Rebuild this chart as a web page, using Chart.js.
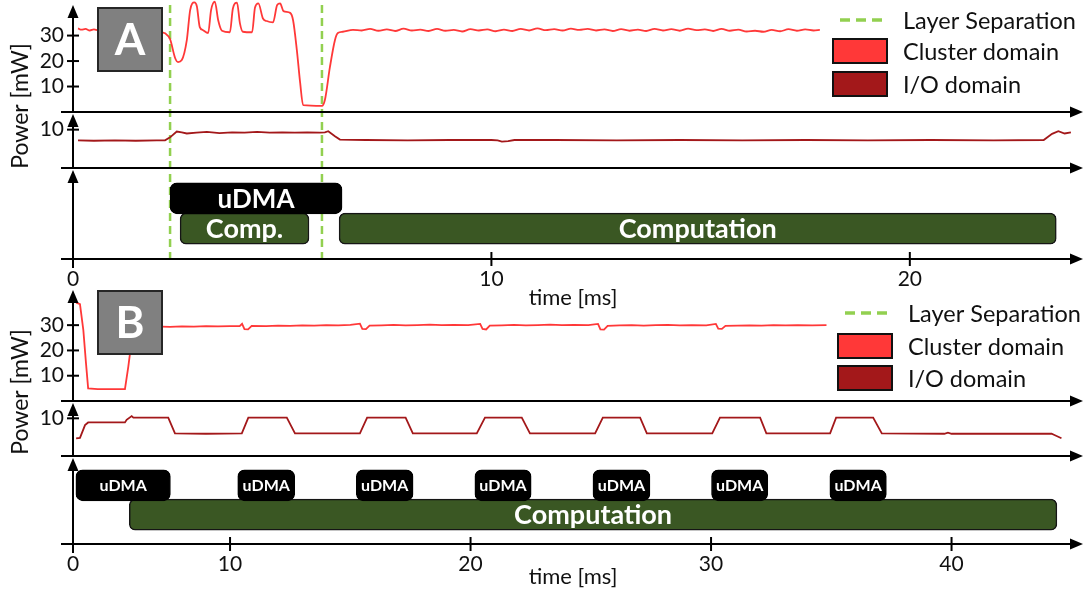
<!DOCTYPE html>
<html>
<head>
<meta charset="utf-8">
<script src="https://cdn.jsdelivr.net/npm/chart.js@4.4.0/dist/chart.umd.min.js"></script>
<style>
  body { margin: 0; background: #fff; }
  #wrap { position: relative; width: 1091px; height: 592px; }
  canvas { position: absolute; left: 0; }
</style>
</head>
<body>
<div id="wrap">
  <canvas id="chartA" width="1091" height="312" style="top:0"></canvas>
  <canvas id="chartB" width="1091" height="306" style="top:286px"></canvas>
</div>
<script>
// ---- data (time in ms, power in mW) ----
const legendLabels = ['Layer Separation', 'Cluster domain', 'I/O domain']
const clusterTicks = [10, 20, 30]
const ioTicks = [10]
const udmaRow = 2
const compRow = 1

// panel A
const xTicksA = [0, 10, 20]
const xTickLabelsA = ['0', '10', '20']
const layerSepA = [2.32, 5.95]
const clusterA = [
  [0.12, 32.8], [0.2, 32.3], [0.3, 32.6], [0.4, 32.0], [0.5, 32.4], [0.6, 32.1], [1.0, 32.2], [1.5, 32.0],
  [2.0, 32.1], [2.13, 31.3], [2.2, 30.9], [2.32, 28.6], [2.44, 21.2], [2.51, 19.6], [2.6, 20.4], [2.72, 28.2],
  [2.8, 40.0], [2.9, 43.0], [2.96, 41.5], [3.03, 33.3], [3.1, 32.2], [3.23, 31.0], [3.3, 40.0], [3.39, 43.3],
  [3.47, 36.0], [3.56, 31.9], [3.75, 31.3], [3.82, 40.5], [3.92, 42.9], [3.99, 34.8], [4.06, 31.5], [4.28, 31.3],
  [4.35, 41.0], [4.43, 42.6], [4.54, 36.7], [4.63, 35.7], [4.78, 35.2], [4.88, 42.0], [4.95, 42.6], [5.03, 39.6],
  [5.19, 38.9], [5.26, 36.0], [5.35, 24.3], [5.43, 11.3], [5.5, 2.7], [5.95, 2.4], [6.02, 4.7], [6.14, 17.6],
  [6.26, 28.2], [6.33, 31.0], [6.45, 31.5], [6.69, 32.2], [6.9, 32.0], [7.1, 32.6], [7.3, 31.9], [7.5, 32.4],
  [7.7, 31.8], [7.9, 32.7], [8.1, 32.0], [8.3, 32.3], [8.5, 31.8], [8.7, 32.6], [8.9, 31.9], [9.1, 32.2],
  [9.3, 31.6], [9.5, 32.5], [9.7, 32.0], [9.9, 32.4], [10.1, 31.7], [10.3, 32.3], [10.5, 31.8], [10.7, 32.6],
  [10.9, 32.0], [11.1, 32.8], [11.3, 32.1], [11.5, 32.5], [11.7, 32.0], [11.9, 32.7], [12.1, 32.2], [12.3, 32.6],
  [12.5, 32.0], [12.7, 32.4], [12.9, 31.8], [13.1, 32.5], [13.3, 31.9], [13.5, 32.3], [13.7, 31.8], [13.9, 32.6],
  [14.1, 32.0], [14.3, 32.5], [14.5, 31.9], [14.7, 32.7], [14.9, 32.1], [15.1, 32.4], [15.3, 31.8], [15.5, 32.6],
  [15.7, 31.9], [15.9, 32.3], [16.1, 31.6], [16.3, 31.9], [16.5, 31.5], [16.7, 32.2], [16.9, 31.7], [17.1, 32.5],
  [17.3, 31.9], [17.5, 32.4], [17.7, 32.0], [17.85, 32.2]
]
const ioA = [
  [0.12, 7.2], [0.5, 7.1], [1.0, 7.2], [1.5, 7.1], [2.0, 7.2], [2.2, 7.2], [2.32, 8.0], [2.48, 9.5],
  [2.6, 9.3], [2.72, 9.0], [2.95, 9.2], [3.2, 9.4], [3.5, 9.1], [3.8, 9.3], [4.1, 9.2], [4.4, 9.4],
  [4.7, 9.2], [5.0, 9.3], [5.3, 9.2], [5.6, 9.3], [5.9, 9.2], [6.02, 9.3], [6.1, 9.6], [6.26, 8.3],
  [6.38, 7.4], [7.0, 7.3], [8.0, 7.2], [9.0, 7.3], [10.0, 7.3], [10.15, 7.2], [10.25, 6.9], [10.4, 7.0],
  [10.55, 7.3], [11.5, 7.3], [13.0, 7.2], [14.5, 7.3], [16.0, 7.2], [17.5, 7.3], [19.0, 7.2], [20.5, 7.3],
  [22.0, 7.2], [23.2, 7.3], [23.4, 8.9], [23.55, 9.6], [23.7, 9.0], [23.85, 9.3]
]
const udmaA = [[2.32, 6.43]]
const compA = [[2.56, 5.64], [6.36, 23.5]]
const udmaLabelsA = ['uDMA']
const compLabelsA = ['Comp.', 'Computation']

// panel B
const xTicksB = [3.47, 10, 20, 30, 40]
const xTickLabelsB = ['0', '10', '20', '30', '40']
const layerSepB = []
const clusterB = [
  [3.6, 38.9], [3.76, 38.3], [3.9, 28.0], [4.01, 15.0], [4.1, 5.0], [4.5, 4.7], [5.0, 4.7], [5.63, 4.7],
  [5.77, 13.6], [5.91, 24.0], [6.0, 28.5], [6.3, 29.5], [6.8, 29.4], [7.17, 29.4], [7.5, 29.3], [8.0, 29.5],
  [8.5, 29.4], [9.0, 29.6], [9.5, 29.5], [10.0, 29.6], [10.4, 29.6], [10.5, 30.5], [10.6, 28.4], [10.75, 28.3],
  [10.9, 29.7], [11.5, 29.6], [12.0, 29.8], [12.5, 29.7], [13.0, 29.9], [13.5, 29.8], [14.0, 30.0], [14.5, 29.9],
  [15.0, 30.1], [15.4, 30.6], [15.5, 28.5], [15.65, 28.4], [15.8, 29.8], [16.3, 29.9], [16.8, 30.1], [17.3, 29.9],
  [17.8, 30.0], [18.3, 30.2], [18.8, 30.0], [19.3, 30.1], [19.9, 30.0], [20.4, 30.5], [20.5, 28.5], [20.65, 28.3],
  [20.8, 29.8], [21.3, 29.9], [21.8, 30.1], [22.3, 29.9], [22.8, 30.0], [23.3, 30.2], [23.8, 30.0], [24.3, 30.1],
  [24.9, 30.0], [25.3, 30.5], [25.4, 28.3], [25.55, 28.2], [25.7, 29.7], [26.2, 29.9], [26.7, 30.0], [27.2, 29.8],
  [27.7, 30.0], [28.2, 30.1], [28.7, 29.9], [29.2, 30.0], [29.8, 29.9], [30.2, 30.5], [30.3, 28.6], [30.45, 28.5],
  [30.6, 29.7], [31.1, 29.8], [31.6, 29.9], [32.1, 29.8], [32.6, 30.0], [33.1, 29.9], [33.6, 30.0], [34.2, 29.9],
  [34.8, 30.0]
]
const ioB = [
  [3.6, 4.7], [3.76, 4.8], [3.97, 8.2], [4.1, 8.9], [5.0, 8.9], [5.63, 8.9], [5.7, 9.6], [5.91, 10.6],
  [5.98, 10.2], [6.7, 10.2], [7.43, 10.2], [7.71, 6.0], [9.0, 5.9], [10.49, 6.0], [10.76, 10.2], [12.36, 10.2],
  [12.7, 6.0], [15.4, 6.0], [15.7, 10.2], [17.3, 10.2], [17.6, 6.0], [20.26, 6.0], [20.6, 10.2], [22.13, 10.2],
  [22.47, 6.0], [25.18, 6.0], [25.5, 10.2], [27.05, 10.2], [27.33, 6.0], [30.05, 6.0], [30.37, 10.2], [32.04, 10.2],
  [32.3, 6.0], [34.95, 6.0], [35.2, 10.2], [36.74, 10.2], [37.1, 6.0], [39.7, 5.9], [39.85, 6.2], [40.0, 5.9],
  [44.16, 5.9], [44.3, 5.5], [44.57, 4.7]
]
const udmaB = [[3.59, 7.52], [10.32, 12.69], [15.25, 17.61], [20.18, 22.52], [25.09, 27.46], [30.02, 32.36], [34.94, 37.29]]
const compB = [[5.81, 44.38]]
const udmaLabelsB = ['uDMA', 'uDMA', 'uDMA', 'uDMA', 'uDMA', 'uDMA', 'uDMA']
const compLabelsB = ['Computation']

// ---- colours ----
const clusterColor = 'rgb(255, 56, 56)'
const ioColor = 'rgb(163, 24, 26)'
const sepColor = 'rgb(146, 208, 80)'
const udmaColor = '#000000'
const compColor = 'rgb(58, 87, 35)'
const FONT = 'Lato, "Open Sans", sans-serif'

const arrowHead = (ctx, x, y, dir) => {
  ctx.beginPath()
  if (dir === 'up') {
    ctx.moveTo(x, y); ctx.lineTo(x - 5.5, y + 13); ctx.lineTo(x + 5.5, y + 13)
  } else {
    ctx.moveTo(x, y); ctx.lineTo(x - 13, y - 5.5); ctx.lineTo(x - 13, y + 5.5)
  }
  ctx.closePath()
  ctx.fill()
}

const figurePlugin = {
  id: 'figure',
  beforeDatasetsDraw (chart, args, opts) {
    const { ctx, chartArea, scales: { x } } = chart
    ctx.save()
    ctx.strokeStyle = sepColor
    ctx.lineWidth = 2.5
    ctx.setLineDash([8, 5])
    opts.layerSeps.forEach(v => {
      const px = x.getPixelForValue(v)
      ctx.beginPath()
      ctx.moveTo(px, chartArea.top)
      ctx.lineTo(px, chartArea.bottom)
      ctx.stroke()
    })
    ctx.restore()
  },
  afterDatasetsDraw (chart, args, opts) {
    const { ctx } = chart
    ctx.save()
    // bar labels
    chart.data.datasets.forEach((ds, i) => {
      if (!ds.barLabels) return
      const meta = chart.getDatasetMeta(i)
      ctx.fillStyle = '#fff'
      ctx.textAlign = 'center'
      ctx.textBaseline = 'middle'
      meta.data.forEach((bar, j) => {
        const { x, base, y } = bar.getProps(['x', 'base', 'y'], true)
        ctx.font = `bold ${ds.labelSize}px ${FONT}`
        ctx.fillText(ds.barLabels[j], (x + base) / 2, y + 1)
      })
    })
    // panel tag
    const t = opts.tag
    ctx.fillStyle = '#808080'
    ctx.strokeStyle = '#262626'
    ctx.lineWidth = 2
    ctx.fillRect(t.x, t.y, 64, 63)
    ctx.strokeRect(t.x, t.y, 64, 63)
    ctx.fillStyle = '#fff'
    ctx.font = `bold 44px ${FONT}`
    ctx.textAlign = 'center'
    ctx.textBaseline = 'middle'
    ctx.fillText(t.text, t.x + 32, t.y + 33)
    // legend
    const lg = opts.legend
    ctx.font = `23.5px ${FONT}`
    ctx.textAlign = 'left'
    ctx.fillStyle = '#111'
    legendLabels.forEach((label, i) => {
      const yy = lg.y + lg.rows[i]
      if (i === 0) {
        ctx.save()
        ctx.strokeStyle = sepColor
        ctx.lineWidth = 3.5
        ctx.setLineDash([10, 6])
        ctx.beginPath()
        ctx.moveTo(lg.x + 7, yy)
        ctx.lineTo(lg.x + 51, yy)
        ctx.stroke()
        ctx.restore()
      } else {
        ctx.fillStyle = i === 1 ? clusterColor : ioColor
        ctx.fillRect(lg.x, yy - 12, 54, 24)
        ctx.strokeStyle = '#111'
        ctx.lineWidth = 2
        ctx.strokeRect(lg.x, yy - 12, 54, 24)
      }
      ctx.fillStyle = '#111'
      ctx.fillText(label, lg.x + 70, yy + 1)
    })
    // y title
    ctx.save()
    ctx.translate(21, opts.titleY)
    ctx.rotate(-Math.PI / 2)
    ctx.textAlign = 'center'
    ctx.textBaseline = 'middle'
    ctx.font = `23px ${FONT}`
    ctx.fillStyle = '#111'
    ctx.fillText('Power [mW]', 0, 0)
    ctx.restore()
    ctx.restore()
  },
  afterDraw (chart) {
    const { ctx, chartArea, scales } = chart
    const left = chartArea.left
    const right = chartArea.right
    ctx.save()
    ctx.strokeStyle = '#000'
    ctx.fillStyle = '#000'
    ctx.lineWidth = 2
    ;['yC', 'yIO', 'yG'].forEach(id => {
      const s = scales[id]
      const tip = id === 'yC' ? s.top : s.top + 2
      ctx.beginPath()
      ctx.moveTo(left, s.bottom + (id === 'yG' ? 9 : 0))
      ctx.lineTo(left, tip + 6)
      ctx.stroke()
      arrowHead(ctx, left, tip, 'up')
      ctx.beginPath()
      ctx.moveTo(left - 12, s.bottom)
      ctx.lineTo(right + 4, s.bottom)
      ctx.stroke()
      arrowHead(ctx, right + 10, s.bottom, 'right')
      s.ticks.forEach(t => {
        const py = s.getPixelForValue(t.value)
        ctx.beginPath()
        ctx.moveTo(left - 6, py)
        ctx.lineTo(left + 6, py)
        ctx.stroke()
      })
    })
    const x = scales.x
    const base = scales.yG.bottom
    x.ticks.forEach(t => {
      if (t.value <= x.min) return
      const px = x.getPixelForValue(t.value)
      ctx.beginPath()
      ctx.moveTo(px, base - 7)
      ctx.lineTo(px, base + 7)
      ctx.stroke()
    })
    ctx.restore()
  }
}

const fitY = s => {
  s.width = 73
  s.paddingTop = 0
  s.paddingBottom = 0
}

const makePanel = (canvas, p) => new Chart(canvas, {
  type: 'line',
  data: {
    datasets: [{
      label: legendLabels[1],
      data: p.cluster.map(([t, v]) => ({ x: t, y: v })),
      borderColor: clusterColor,
      borderWidth: 1.8,
      pointRadius: 0,
      cubicInterpolationMode: p.smooth ? 'monotone' : 'default',
      yAxisID: 'yC',
      clip: false,
    }, {
      label: legendLabels[2],
      data: p.io.map(([t, v]) => ({ x: t, y: v })),
      borderColor: ioColor,
      borderWidth: 1.8,
      pointRadius: 0,
      yAxisID: 'yIO',
      clip: false,
    }, {
      type: 'bar',
      label: 'uDMA',
      indexAxis: 'y',
      data: p.udma.map(r => ({ x: r, y: udmaRow })),
      backgroundColor: udmaColor,
      borderColor: '#000',
      borderWidth: 1,
      borderRadius: 7,
      borderSkipped: false,
      barThickness: 31,
      grouped: false,
      yAxisID: 'yG',
      barLabels: p.udmaLabels,
      labelSize: p.udmaLabelSize,
    }, {
      type: 'bar',
      label: 'Computation',
      indexAxis: 'y',
      data: p.comp.map(r => ({ x: r, y: compRow })),
      backgroundColor: compColor,
      borderColor: '#151515',
      borderWidth: 1.5,
      borderRadius: 6,
      borderSkipped: false,
      barThickness: 31,
      grouped: false,
      yAxisID: 'yG',
      barLabels: p.compLabels,
      labelSize: 27,
    }]
  },
  options: {
    responsive: false,
    animation: false,
    devicePixelRatio: 1,
    layout: { padding: { top: p.padTop, right: 18, left: 0, bottom: 0 } },
    plugins: {
      legend: { display: false },
      tooltip: { enabled: false },
      figure: { layerSeps: p.layerSeps, tag: p.tag, legend: p.legend, titleY: 106 },
    },
    scales: {
      x: {
        type: 'linear',
        min: p.xMin,
        max: p.xMax,
        grid: { display: false, drawTicks: false },
        border: { display: false },
        afterBuildTicks: s => { s.ticks = p.xTicks.map(v => ({ value: v })) },
        afterFit: s => { s.height = p.xHeight; s.paddingLeft = 0; s.paddingRight = 0 },
        ticks: {
          font: { family: FONT, size: 21 },
          color: '#111',
          padding: 8,
          callback: (v, i) => p.xTickLabels[i],
        },
        title: {
          display: true,
          text: 'time [ms]',
          font: { family: FONT, size: 22 },
          color: '#111',
          padding: { top: 0, bottom: p.titlePad },
        },
      },
      yG: {
        type: 'linear', position: 'left', stack: 'panel', stackWeight: p.weights[2], weight: 1,
        min: 0, max: 3,
        grid: { display: false, drawTicks: false },
        border: { display: false },
        afterBuildTicks: s => { s.ticks = [] },
        afterFit: fitY,
        ticks: { display: false },
      },
      yIO: {
        type: 'linear', position: 'left', stack: 'panel', stackWeight: p.weights[1], weight: 2,
        min: 0, max: p.ioMax,
        grid: { display: false, drawTicks: false },
        border: { display: false },
        afterBuildTicks: s => { s.ticks = ioTicks.map(v => ({ value: v })) },
        afterFit: fitY,
        ticks: { font: { family: FONT, size: 21 }, color: '#111', padding: 9 },
      },
      yC: {
        type: 'linear', position: 'left', stack: 'panel', stackWeight: p.weights[0], weight: 3,
        min: 0, max: p.clusterMax,
        grid: { display: false, drawTicks: false },
        border: { display: false },
        afterBuildTicks: s => { s.ticks = clusterTicks.map(v => ({ value: v })) },
        afterFit: fitY,
        ticks: { font: { family: FONT, size: 21 }, color: '#111', padding: 9 },
      },
    }
  },
  plugins: [figurePlugin]
})

makePanel(document.getElementById('chartA'), {
  cluster: clusterA, io: ioA, udma: udmaA, comp: compA, smooth: true,
  udmaLabels: udmaLabelsA, compLabels: compLabelsA, udmaLabelSize: 26,
  layerSeps: layerSepA, xTicks: xTicksA, xTickLabels: xTickLabelsA,
  xMin: 0, xMax: 23.9, xHeight: 53, titlePad: 1, padTop: 5,
  weights: [107, 56, 91], clusterMax: 42, ioMax: 14.6,
  tag: { x: 98, y: 8, text: 'A' },
  legend: { x: 833, y: 8, rows: [12, 43, 76] },
})

makePanel(document.getElementById('chartB'), {
  cluster: clusterB, io: ioB, udma: udmaB, comp: compB, smooth: false,
  udmaLabels: udmaLabelsB, compLabels: compLabelsB, udmaLabelSize: 16,
  layerSeps: layerSepB, xTicks: xTicksB, xTickLabels: xTickLabelsB,
  xMin: 3.47, xMax: 45.05, xHeight: 48, titlePad: 2, padTop: 4,
  weights: [111, 55, 88], clusterMax: 43.9, ioMax: 14.6,
  tag: { x: 98, y: 5, text: 'B' },
  legend: { x: 838, y: 15, rows: [12, 45, 77] },
})
</script>
</body>
</html>
